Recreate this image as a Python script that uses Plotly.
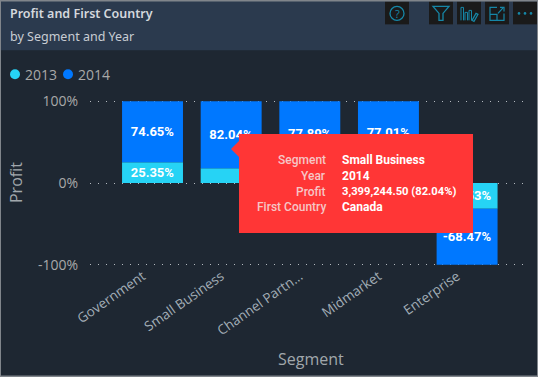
import plotly.graph_objects as go

categories = ["Government", "Small Business", "Channel Partn...", "Midmarket", "Enterprise"]
years = ["2013", "2014"]
values_2013 = [25.35, 17.96, 22.11, 22.99, -31.53]
values_2014 = [74.65, 82.04, 77.89, 77.01, -68.47]
labels_2013 = ["25.35%", "", "", "", "-31.53%"]
labels_2014 = ["74.65%", "82.04%", "77.89%", "77.01%", "-68.47%"]
y_ticks = [-100, 0, 100]
y_tick_labels = ["-100%", "0%", "100%"]
title_text = "Profit and First Country"
subtitle_text = "by Segment and Year"
x_title = "Segment"
y_title = "Profit"
tip_keys = ["Segment", "Year", "Profit", "First Country"]
tip_vals = ["Small Business", "2014", "3,399,244.50 (82.04%)", "Canada"]

W, H = 538, 377
L, R, T, B = 90, 530, 92.8, 273.2
BG, HEAD = "#1E2732", "#2B3A4E"
BLUE, CYAN, RED = "#0078FF", "#26D3F5", "#FF3636"
TEAL = "#1687A7"
SANS = "Open Sans"
DIN = "Roboto"


def px(x):
    return (x - L) / (R - L)


def py(y):
    return (B - y) / (B - T)


fig = go.Figure()
for name, vals, labs, col in [(years[0], values_2013, labels_2013, CYAN),
                              (years[1], values_2014, labels_2014, BLUE)]:
    fig.add_trace(go.Bar(
        x=categories, y=vals, name=name, marker=dict(color=col, line=dict(width=0)),
        text=labs, textposition="inside", insidetextanchor="middle", textangle=0,
        constraintext="none", cliponaxis=False,
        textfont=dict(family=DIN, size=13, color="white", weight=700),
        showlegend=False))

shapes, annos = [], []


def rect(x0, y0, x1, y1, fill, line=None, w=0):
    shapes.append(dict(type="rect", xref="paper", yref="paper", x0=px(x0), x1=px(x1), y0=py(y0), y1=py(y1),
                       fillcolor=fill, line=dict(color=line or fill, width=w)))


def circle(x0, y0, x1, y1, fill=None, line=None, w=0):
    shapes.append(dict(type="circle", xref="paper", yref="paper", x0=px(x0), x1=px(x1), y0=py(y0), y1=py(y1),
                       fillcolor=fill or "rgba(0,0,0,0)", line=dict(color=line or "rgba(0,0,0,0)", width=w)))


def path(points, fill=None, line=None, w=0, close=False):
    d = "M" + " L".join(f"{px(a):.5f},{py(b):.5f}" for a, b in points) + (" Z" if close else "")
    shapes.append(dict(type="path", xref="paper", yref="paper", path=d,
                       fillcolor=fill or "rgba(0,0,0,0)", line=dict(color=line or "rgba(0,0,0,0)", width=w)))


def text(x, y, s, size, color, anchor="left", family=SANS, weight=400, angle=0):
    annos.append(dict(x=px(x), y=py(y), xref="paper", yref="paper", text=s, showarrow=False,
                      xanchor=anchor, yanchor="middle", borderpad=0, textangle=angle,
                      font=dict(family=family, size=size, color=color, weight=weight)))


# header band
rect(0, 0, W, 50, HEAD)
text(9, 13.5, title_text, 12.5, "#D4D8DD", family="Noto Sans", weight=600)
text(9, 36, subtitle_text, 12.5, "#C8CDD3", family="Noto Sans")

# header icons
for x0 in [385, 429, 457, 485, 513]:
    rect(x0, 1, x0 + 24, 24, "#1A1A1A")
circle(390, 6, 404, 20, line=TEAL, w=1.3)
text(397, 13, "?", 11, TEAL, anchor="center")
path([(433, 6), (449, 6), (443, 13), (443, 20), (439, 20), (439, 13)], line=TEAL, w=1.3, close=True)
for xa, top in [(461, 7), (465, 12), (469, 10)]:
    path([(xa, 20), (xa, top), (xa + 2.5, top), (xa + 2.5, 20)], line=TEAL, w=1)
path([(472, 20), (476, 13), (478, 14), (474, 21)], line=TEAL, w=1.2, close=True)
path([(497, 7), (490, 7), (490, 20), (504, 20), (504, 13)], line=TEAL, w=1.2)
path([(490, 14), (497, 14), (497, 20)], line=TEAL, w=1.2)
path([(498, 13), (503, 7.5)], line=TEAL, w=1.2)
path([(500, 7), (504, 7), (504, 11)], line=TEAL, w=1.2)
for cx in [519, 525, 531]:
    circle(cx - 1.3, 11.7, cx + 1.3, 14.3, fill=TEAL)

# legend
for cx, col, yr, tx in [(15, CYAN, years[0], 23.5), (68, BLUE, years[1], 76.5)]:
    circle(cx - 5, 69, cx + 5, 79, fill=col)
    text(tx, 74.5, yr, 14, "#A9A9A9")

# axis titles
text(311, 359, x_title, 16, "#A1A7AC", anchor="center")
text(16, 183, y_title, 16, "#A1A7AC", anchor="center", angle=-90)

# tooltip
rect(239, 134, 473, 233, RED)
path([(239, 141), (231, 149), (239, 157)], fill=RED, close=True)
for k, v, y, vs in zip(tip_keys, tip_vals, [160, 176, 192, 207], [12, 12, 11.2, 12]):
    text(327, y, k, 12, "#F6C6C6", anchor="right", family=DIN, weight=500)
    text(341, y, v, vs, "white", family=DIN, weight=700)

# frame
rect(0, 0, W, H, "rgba(0,0,0,0)", line="#80858B", w=2)

fig.update_layout(
    width=W, height=H, margin=dict(l=L, r=W - R, t=T, b=H - B, pad=0, autoexpand=False),
    paper_bgcolor=BG, plot_bgcolor=BG, barmode="relative", bargap=0.225,
    shapes=shapes, annotations=annos, showlegend=False,
    xaxis=dict(type="category", range=[-0.795, 4.80], showgrid=False, zeroline=False, showline=False,
               tickangle=-35, tickfont=dict(family=SANS, size=13.5, color="#A3AEB7"), ticks="",
               automargin=False, ticklabelshift=-10, ticklabelstandoff=-8),
    yaxis=dict(range=[-110, 110], tickvals=y_ticks, ticktext=y_tick_labels, showline=False, zeroline=False,
               showgrid=True, gridcolor="#B4BAC0", griddash="1px,7px", gridwidth=1, ticks="",
               ticklabelstandoff=11, automargin=False,
               tickfont=dict(family=SANS, size=14, color="#A9A9A9")),
)
fig.write_html("out.html", config=dict(displayModeBar=False),
               post_script="document.body.style.margin='0';document.body.style.overflow='hidden';")
